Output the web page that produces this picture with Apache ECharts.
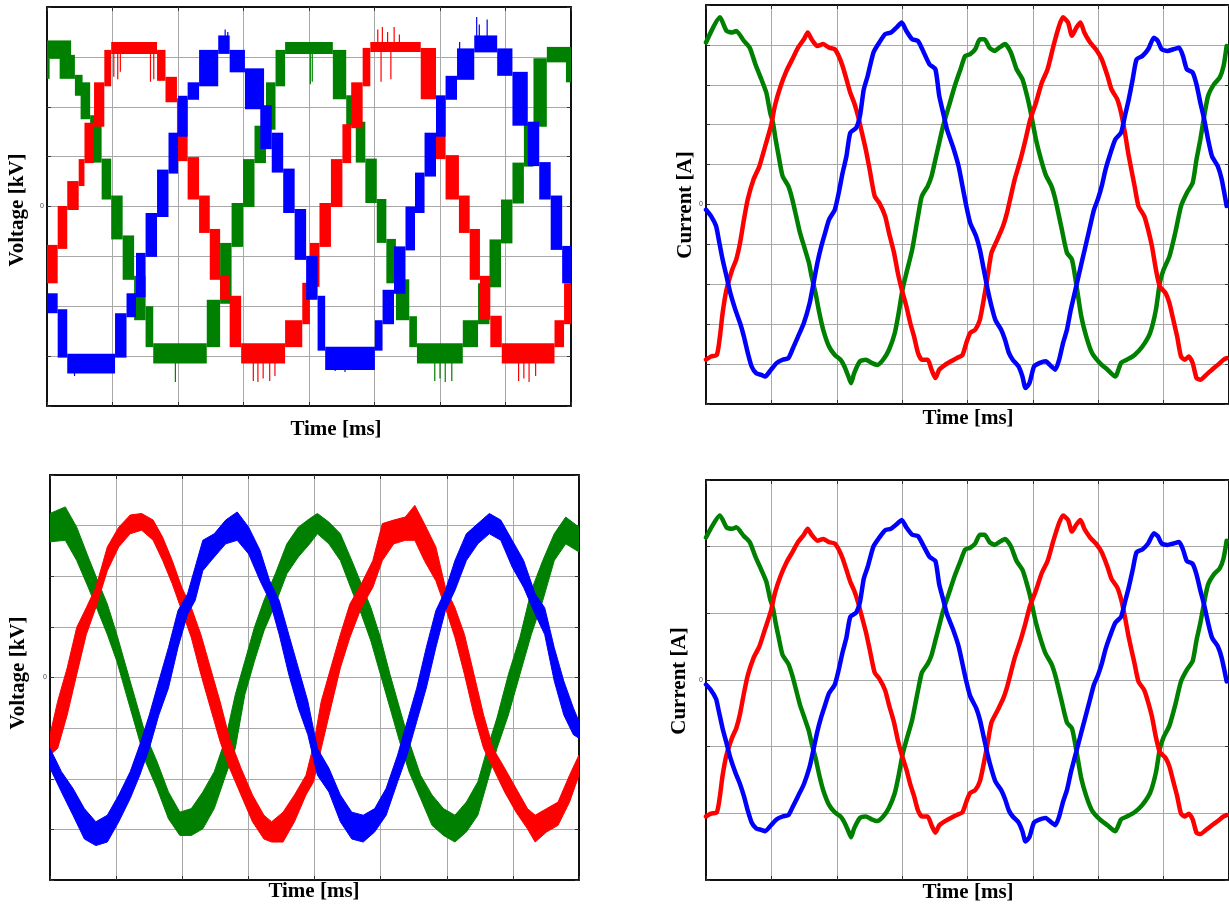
<!DOCTYPE html>
<html><head><meta charset="utf-8">
<script src="https://cdn.jsdelivr.net/npm/echarts/dist/echarts.min.js"></script>
<style>html,body{margin:0;padding:0;background:#fff}#c{width:1229px;height:906px}</style>
</head><body><div id="c"></div>
<script>
// ---------------- DATA (time and values in grid-division units) ----------------
const xTicks = [0, 8, 1];
// Top-left voltage (multilevel staircase): segments [t0, t1, low, high]
const tlRedSegs = [
 [0,0.163,-1.54,-0.77],[0.163,0.309,-0.85,0.01],[0.309,0.484,-0.07,0.51],[0.484,0.572,0.41,0.95],
 [0.572,0.718,0.87,1.68],[0.718,0.875,1.60,2.49],[0.875,0.980,2.41,3.14],[0.980,1.680,3.06,3.30],
 [1.680,1.809,2.52,3.14],[1.809,1.984,2.09,2.60],[1.984,2.147,0.91,2.17],[2.147,2.322,0.14,0.99],
 [2.322,2.485,-0.53,0.22],[2.485,2.643,-1.47,-0.45],[2.643,2.789,-1.87,-1.39],[2.789,2.964,-2.82,-1.79],
 [2.964,3.635,-3.15,-2.74],[3.635,3.897,-2.82,-2.28],[3.897,4.014,-2.36,-1.53],[4.014,4.160,-1.61,-0.73],
 [4.160,4.335,-0.81,0.07],[4.335,4.510,-0.01,0.95],[4.510,4.644,0.87,1.65],[4.644,4.819,1.57,2.49],
 [4.819,4.936,2.41,3.18],[4.936,5.706,3.10,3.30],[5.706,5.939,2.15,3.18],[5.939,6.085,0.95,2.23],
 [6.085,6.289,0.14,1.03],[6.289,6.453,-0.53,0.22],[6.453,6.610,-1.47,-0.45],[6.610,6.768,-2.27,-1.39],
 [6.768,6.943,-2.82,-2.19],[6.943,7.748,-3.15,-2.74],[7.748,7.894,-2.82,-2.28],[7.894,8.0,-2.36,-1.54]
];
const tlGreenSegs = [
 [0,0.368,2.96,3.33],[0,0.04,2.56,2.96],[0.193,0.426,2.56,3.04],[0.426,0.543,2.22,2.64],
 [0.513,0.659,1.75,2.49],[0.659,0.834,0.88,1.83],[0.834,0.980,0.14,0.96],[0.980,1.155,-0.66,0.22],
 [1.155,1.330,-1.47,-0.58],[1.330,1.505,-2.28,-1.39],[1.505,1.622,-2.82,-2.00],[1.622,2.439,-3.15,-2.74],
 [2.439,2.643,-2.82,-1.87],[2.643,2.818,-1.95,-0.73],[2.818,2.993,-0.81,0.07],[2.993,3.168,-0.01,0.95],
 [3.168,3.343,0.87,1.62],[3.343,3.489,1.54,2.49],[3.489,3.635,2.41,3.14],[3.635,4.364,3.06,3.30],
 [4.364,4.568,2.15,3.14],[4.568,4.714,1.62,2.23],[4.714,4.860,0.88,1.70],[4.860,5.035,0.07,0.96],
 [5.035,5.181,-0.73,0.15],[5.181,5.327,-1.54,-0.65],[5.327,5.531,-2.28,-1.46],[5.531,5.648,-2.82,-2.20],
 [5.648,6.348,-3.15,-2.74],[6.348,6.581,-2.82,-2.28],[6.581,6.756,-2.36,-1.54],[6.756,6.931,-1.62,-0.66],
 [6.931,7.106,-0.74,0.14],[7.106,7.281,0.06,0.88],[7.281,7.427,0.80,1.68],[7.427,7.631,1.60,2.97],
 [7.631,8.0,2.89,3.20],[7.923,8.0,2.49,2.97]
];
const tlBlueSegs = [
 [0,0.163,-2.14,-1.74],[0.163,0.309,-3.03,-2.06],[0.309,1.039,-3.35,-2.95],[1.039,1.214,-3.03,-2.14],
 [1.214,1.359,-2.22,-1.74],[1.359,1.505,-1.82,-0.93],[1.505,1.680,-1.01,-0.13],[1.680,1.855,-0.21,0.74],
 [1.855,2.001,0.66,1.48],[2.001,2.147,1.40,2.22],[2.147,2.322,2.14,2.49],[2.322,2.614,2.41,3.14],
 [2.614,2.789,3.06,3.43],[2.789,3.022,2.69,3.14],[3.022,3.314,1.95,2.77],[3.256,3.431,1.15,2.03],
 [3.431,3.606,0.68,1.48],[3.606,3.781,-0.13,0.76],[3.781,3.956,-1.07,-0.05],[3.956,4.131,-1.87,-0.99],
 [4.131,4.247,-2.89,-1.79],[4.247,5.006,-3.28,-2.81],[5.006,5.123,-2.89,-2.28],[5.123,5.298,-2.36,-1.67],
 [5.298,5.473,-1.75,-0.80],[5.473,5.618,-0.88,0.00],[5.618,5.764,-0.13,0.68],[5.764,5.939,0.60,1.48],
 [5.939,6.085,1.40,2.22],[6.085,6.260,2.14,2.62],[6.260,6.523,2.54,3.17],[6.523,6.873,3.09,3.43],
 [6.873,7.106,2.62,3.17],[7.106,7.340,1.62,2.70],[7.340,7.515,0.81,1.70],[7.515,7.690,0.14,0.89],
 [7.690,7.865,-0.87,0.22],[7.865,8.0,-1.54,-0.79]
];
// switching spikes [t, from, to]
const tlRedSpikes = [[1.02,2.6,3.1],[1.08,2.55,3.1],[1.12,2.7,3.1],[1.58,2.5,3.1],[1.63,2.55,3.1],
 [3.15,-3.5,-3.0],[3.22,-3.52,-3.0],[3.30,-3.45,-3.0],[3.40,-3.5,-3.0],[3.48,-3.4,-3.0],
 [5.05,3.2,3.55],[5.12,3.2,3.6],[5.20,3.2,3.5],[5.30,3.2,3.6],[5.38,3.2,3.45],[5.10,2.5,3.1],[5.25,2.55,3.1],
 [7.20,-3.5,-3.0],[7.28,-3.45,-3.0],[7.36,-3.52,-3.0],[7.46,-3.4,-3.0]];
const tlGreenSpikes = [[1.96,-3.52,-3.0],[4.02,2.45,3.1],[4.05,2.5,3.1],[5.92,-3.5,-3.0],[6.0,-3.45,-3.0],[6.08,-3.52,-3.0],[6.18,-3.5,-3.0]];
const tlBlueSpikes = [[2.72,3.1,3.55],[2.76,3.1,3.5],[6.56,3.3,3.8],[6.60,3.3,3.65],[6.72,3.3,3.75],[6.30,2.7,3.3],[6.35,2.6,3.1],[0.42,-3.4,-3.0],[4.40,-3.3,-2.9],[4.55,-3.32,-2.9]];

// Bottom-left voltage (noisy sinusoid band): t, low, high
const blGreenT = [0,0.231,0.404,0.578,0.722,0.867,1.011,1.155,1.300,1.444,1.618,1.791,1.964,2.137,2.311,2.484,2.657,2.802,2.946,3.091,3.235,3.408,3.582,3.755,3.928,4.044,4.217,4.391,4.564,4.708,4.853,4.997,5.142,5.286,5.430,5.604,5.777,5.950,6.124,6.297,6.470,6.615,6.759,6.932,7.106,7.279,7.452,7.626,7.799,8.0];
const blGreenHi = [3.24,3.37,2.97,2.38,1.91,1.45,0.85,0.19,-0.47,-1.13,-1.66,-2.26,-2.66,-2.59,-2.26,-1.86,-1.20,-0.34,0.32,0.99,1.52,2.05,2.64,2.97,3.14,3.24,3.07,2.84,2.31,1.85,1.38,0.79,0.06,-0.60,-1.26,-1.93,-2.32,-2.59,-2.72,-2.46,-2.06,-1.40,-0.80,0.06,0.79,1.72,2.31,2.84,3.17,2.97];
const blGreenLo = [2.68,2.71,2.31,1.78,1.32,0.85,0.32,-0.34,-1.00,-1.66,-2.19,-2.79,-3.12,-3.12,-2.99,-2.59,-1.93,-1.40,-0.34,0.32,0.92,1.45,2.05,2.38,2.64,2.84,2.64,2.31,1.72,1.25,0.72,0.06,-0.60,-1.26,-1.86,-2.39,-2.92,-3.12,-3.25,-3.05,-2.72,-2.06,-1.40,-0.74,0.06,0.85,1.52,2.31,2.64,2.48];
const blRedT = [0,0.116,0.260,0.404,0.549,0.693,0.867,1.040,1.213,1.386,1.560,1.704,1.849,1.993,2.137,2.282,2.426,2.571,2.715,2.888,3.062,3.235,3.351,3.524,3.697,3.871,3.986,4.102,4.246,4.391,4.535,4.708,4.882,5.026,5.199,5.373,5.517,5.661,5.835,5.979,6.124,6.268,6.412,6.557,6.701,6.875,7.048,7.221,7.337,7.510,7.683,7.857,8.0];
const blRedHi = [-1.13,-0.47,0.19,0.99,1.38,1.78,2.58,2.97,3.21,3.24,3.11,2.77,2.31,1.78,1.38,0.85,0.19,-0.47,-1.20,-1.79,-2.32,-2.72,-2.85,-2.66,-2.32,-1.93,-1.33,-0.47,0.19,0.85,1.45,1.85,2.31,3.04,3.11,3.17,3.40,3.04,2.58,1.78,1.38,0.85,0.06,-0.74,-1.40,-1.79,-2.19,-2.59,-2.72,-2.59,-2.46,-1.93,-1.53];
const blRedLo = [-1.53,-1.40,-0.74,0.06,0.85,1.38,2.11,2.58,2.84,2.91,2.71,2.31,1.85,1.32,0.79,0.06,-0.60,-1.26,-1.79,-2.32,-2.85,-3.19,-3.25,-3.25,-2.85,-2.32,-2.06,-1.40,-0.60,0.19,0.79,1.38,1.78,2.31,2.64,2.71,2.71,2.31,1.91,1.38,0.79,0.06,-0.74,-1.40,-1.79,-2.26,-2.66,-2.99,-3.25,-3.05,-2.92,-2.46,-1.93];
const blBlueT = [0,0.173,0.347,0.520,0.693,0.867,1.040,1.213,1.358,1.502,1.646,1.791,1.935,2.080,2.195,2.311,2.484,2.657,2.831,3.004,3.177,3.322,3.466,3.611,3.755,3.899,4.044,4.217,4.391,4.564,4.737,4.910,5.084,5.257,5.401,5.546,5.690,5.835,5.979,6.124,6.297,6.470,6.644,6.817,6.990,7.163,7.337,7.481,7.626,7.770,7.915,8.0];
const blBlueHi = [-1.40,-1.86,-2.19,-2.59,-2.85,-2.72,-2.32,-1.86,-1.33,-0.74,-0.07,0.59,1.32,1.65,2.18,2.71,2.84,3.11,3.27,2.97,2.51,1.91,1.52,0.85,0.19,-0.47,-1.40,-1.79,-2.32,-2.66,-2.72,-2.59,-2.19,-1.53,-0.87,-0.21,0.59,1.32,1.72,2.31,2.84,3.04,3.24,3.11,2.71,2.31,1.65,1.38,0.59,-0.07,-0.60,-0.87];
const blBlueLo = [-1.79,-2.26,-2.72,-3.19,-3.32,-3.25,-2.85,-2.39,-1.93,-1.40,-0.74,-0.21,0.59,1.25,1.52,2.11,2.38,2.64,2.71,2.44,1.91,1.52,0.85,0.06,-0.60,-1.13,-1.93,-2.26,-2.85,-3.19,-3.25,-3.05,-2.72,-2.06,-1.53,-0.87,-0.21,0.59,1.32,1.72,2.31,2.64,2.84,2.71,2.18,1.78,1.25,0.85,-0.07,-0.74,-1.13,-1.20];

// Currents (same measurement in both right panels)
const curGreenT = [0,0.213,0.314,0.402,0.462,0.580,0.669,0.757,0.846,0.923,0.982,1.024,1.065,1.112,1.172,1.260,1.320,1.379,1.438,1.515,1.574,1.615,1.675,1.734,1.793,1.882,1.970,2.059,2.118,2.178,2.219,2.266,2.355,2.444,2.533,2.621,2.710,2.799,2.888,2.947,3.006,3.065,3.154,3.243,3.302,3.391,3.450,3.509,3.568,3.627,3.716,3.805,3.893,3.964,4.041,4.118,4.189,4.260,4.337,4.414,4.485,4.574,4.663,4.751,4.840,4.899,4.947,4.988,5.047,5.124,5.195,5.284,5.343,5.432,5.521,5.598,5.669,5.740,5.817,5.905,6.024,6.142,6.260,6.349,6.438,6.556,6.675,6.793,6.882,6.941,7.000,7.089,7.178,7.266,7.355,7.444,7.503,7.562,7.621,7.680,7.769,7.858,7.917,7.964];
const curGreenV = [4.06,4.69,4.35,4.31,4.35,4.10,3.93,3.51,3.14,2.80,2.30,2.05,1.63,1.21,0.71,0.46,0.13,-0.29,-0.71,-1.13,-1.46,-1.80,-2.22,-2.72,-3.14,-3.56,-3.77,-3.89,-4.06,-4.31,-4.48,-4.23,-3.93,-3.89,-3.97,-4.02,-3.89,-3.64,-3.22,-2.72,-2.13,-1.72,-1.13,-0.29,0.21,0.46,0.71,1.13,1.55,1.97,2.47,2.97,3.39,3.72,3.77,3.89,4.14,4.14,3.93,3.85,3.93,4.02,3.81,3.39,3.14,2.80,2.47,2.13,1.63,1.13,0.75,0.46,0.13,-0.54,-1.21,-1.38,-2.05,-2.80,-3.31,-3.72,-3.97,-4.14,-4.31,-3.97,-3.89,-3.77,-3.56,-3.22,-2.64,-1.97,-1.63,-1.30,-0.71,-0.04,0.29,0.54,1.13,1.63,2.22,2.72,3.01,3.18,3.47,3.97];
const curRedT = [0,0.077,0.166,0.213,0.254,0.314,0.402,0.462,0.521,0.580,0.639,0.728,0.817,0.905,0.994,1.053,1.142,1.231,1.320,1.408,1.497,1.556,1.615,1.704,1.793,1.882,1.970,2.030,2.089,2.148,2.207,2.266,2.325,2.385,2.444,2.503,2.580,2.651,2.740,2.799,2.876,2.935,2.994,3.065,3.124,3.183,3.243,3.302,3.391,3.450,3.509,3.568,3.657,3.746,3.834,3.923,3.982,4.041,4.118,4.189,4.249,4.308,4.367,4.456,4.544,4.604,4.663,4.722,4.811,4.888,4.959,5.047,5.136,5.225,5.314,5.402,5.462,5.538,5.598,5.669,5.728,5.787,5.876,5.964,6.053,6.142,6.201,6.290,6.349,6.408,6.467,6.556,6.615,6.704,6.763,6.822,6.882,6.941,7.030,7.089,7.148,7.207,7.266,7.325,7.385,7.444,7.503,7.562,7.651,7.740,7.828,7.917,7.964];
const curRedV = [-3.89,-3.81,-3.77,-3.31,-2.72,-2.13,-1.63,-1.38,-0.96,-0.38,0.13,0.63,0.96,1.46,1.97,2.47,2.97,3.35,3.64,3.93,4.14,4.31,4.14,3.97,4.02,3.93,3.89,3.72,3.47,3.14,2.80,2.55,2.22,1.80,1.38,0.88,0.21,0.04,-0.29,-0.71,-1.21,-1.72,-2.13,-2.55,-2.97,-3.31,-3.72,-3.89,-3.89,-4.14,-4.35,-4.14,-4.02,-3.93,-3.85,-3.77,-3.47,-3.22,-3.14,-2.89,-2.38,-1.80,-1.21,-0.88,-0.54,-0.21,0.21,0.63,1.13,1.63,2.13,2.55,3.05,3.39,3.97,4.48,4.69,4.56,4.23,4.44,4.56,4.31,4.06,3.89,3.64,3.22,2.89,2.64,2.30,1.80,1.21,0.46,-0.04,-0.29,-0.63,-1.05,-1.63,-2.05,-2.22,-2.47,-2.89,-3.31,-3.81,-3.89,-3.81,-3.97,-4.35,-4.39,-4.27,-4.14,-4.02,-3.89,-3.85];
const curBlueT = [0,0.077,0.154,0.195,0.254,0.314,0.373,0.450,0.521,0.580,0.639,0.698,0.769,0.846,0.905,0.994,1.083,1.172,1.260,1.320,1.408,1.497,1.586,1.645,1.704,1.763,1.822,1.882,1.970,2.030,2.089,2.148,2.207,2.296,2.355,2.414,2.473,2.562,2.651,2.740,2.828,2.917,2.994,3.065,3.154,3.243,3.331,3.420,3.509,3.568,3.627,3.686,3.775,3.864,3.923,3.982,4.041,4.130,4.189,4.249,4.308,4.367,4.426,4.515,4.574,4.633,4.692,4.781,4.840,4.888,4.947,5.018,5.107,5.195,5.284,5.343,5.402,5.462,5.521,5.580,5.639,5.698,5.757,5.817,5.876,5.935,5.994,6.053,6.112,6.172,6.260,6.349,6.408,6.467,6.527,6.586,6.675,6.763,6.852,6.911,6.970,7.059,7.148,7.237,7.296,7.355,7.444,7.503,7.562,7.621,7.680,7.740,7.828,7.888,7.964];
const curBlueV = [-0.13,-0.29,-0.54,-0.88,-1.38,-1.80,-2.22,-2.64,-2.97,-3.31,-3.72,-4.06,-4.23,-4.27,-4.31,-4.14,-3.97,-3.89,-3.85,-3.64,-3.31,-2.97,-2.47,-1.97,-1.46,-1.05,-0.71,-0.38,-0.13,0.29,0.79,1.21,1.80,1.92,2.22,2.89,3.22,3.81,4.06,4.27,4.31,4.44,4.56,4.35,4.14,4.10,3.81,3.51,3.39,2.72,2.30,1.88,1.46,0.96,0.46,-0.04,-0.46,-0.79,-1.13,-1.63,-2.13,-2.55,-2.89,-3.14,-3.39,-3.72,-3.89,-4.06,-4.31,-4.60,-4.48,-4.06,-3.97,-3.93,-4.06,-4.14,-3.89,-3.47,-3.14,-2.64,-2.22,-1.80,-1.38,-0.96,-0.54,-0.13,0.13,0.46,0.88,1.21,1.63,1.80,2.22,2.64,3.14,3.64,3.72,3.89,4.18,4.10,3.89,3.85,3.89,3.93,3.72,3.39,3.31,3.01,2.55,2.13,1.63,1.21,0.96,0.63,-0.04];

// ---------------- CHART ----------------
const RED = '#ff0000', GREEN = '#008000', BLUE = '#0000ff';
const grids = [
  {left: 47, top: 7, width: 524, height: 399},
  {left: 706, top: 5, width: 525, height: 399},
  {left: 50, top: 475, width: 529, height: 405},
  {left: 706, top: 480, width: 525, height: 400}
];
const yRanges = [[-4, 4, 1], [-5, 5, 1], [-4, 4, 1], [-5.7, 5.7, 1.9]];

const xAxes = [], yAxes = [];
grids.forEach((g, i) => {
  const line = {show: true, onZero: false, lineStyle: {color: '#111', width: 2}};
  const tick = {show: true, inside: true, length: 4, lineStyle: {color: '#333', width: 1}};
  xAxes.push({gridIndex: i, type: 'value', min: xTicks[0], max: xTicks[1], interval: xTicks[2], position: 'bottom',
    axisLine: line, axisTick: tick, axisLabel: {show: false},
    splitLine: {show: true, lineStyle: {color: '#a8a8a8', width: 1}}});
  xAxes.push({gridIndex: i, type: 'value', min: xTicks[0], max: xTicks[1], interval: xTicks[2], position: 'top',
    axisLine: line, axisTick: tick, axisLabel: {show: false}, splitLine: {show: false}});
  const r = yRanges[i];
  yAxes.push({gridIndex: i, type: 'value', min: r[0], max: r[1], interval: r[2], position: 'left',
    axisLine: line, axisTick: tick,
    axisLabel: {show: true, fontSize: 7, color: '#444', margin: 3, fontFamily: 'Liberation Sans',
      formatter: v => Math.abs(v) < 1e-6 ? '0' : ''},
    splitLine: {show: true, lineStyle: {color: '#a8a8a8', width: 1}}});
  yAxes.push({gridIndex: i, type: 'value', min: r[0], max: r[1], interval: r[2], position: 'right',
    axisLine: line, axisTick: tick, axisLabel: {show: false}, splitLine: {show: false}});
});

function segSeries(segs, color, gi) {
  return {type: 'custom', xAxisIndex: 2 * gi, yAxisIndex: 2 * gi, data: segs, clip: true,
    encode: {x: [0, 1], y: [2, 3]},
    renderItem: (p, api) => {
      const a = api.coord([api.value(0), api.value(3)]);
      const b = api.coord([api.value(1), api.value(2)]);
      return {type: 'rect', shape: {x: a[0], y: a[1], width: b[0] - a[0], height: Math.max(b[1] - a[1], 2)},
        style: {fill: color}};
    }};
}
function spikeSeries(spk, color, gi) {
  return {type: 'custom', xAxisIndex: 2 * gi, yAxisIndex: 2 * gi, data: spk, clip: true,
    encode: {x: 0, y: [1, 2]},
    renderItem: (p, api) => {
      const a = api.coord([api.value(0), api.value(1)]);
      const b = api.coord([api.value(0), api.value(2)]);
      return {type: 'line', shape: {x1: a[0], y1: a[1], x2: b[0], y2: b[1]}, style: {stroke: color, lineWidth: 1.2}};
    }};
}
function bandSeries(ts, lo, hi, color, gi) {
  const data = ts.map((t, k) => [t, lo[k], hi[k]]);
  return {type: 'custom', xAxisIndex: 2 * gi, yAxisIndex: 2 * gi, data: data, clip: true,
    encode: {x: 0, y: [1, 2]},
    renderItem: (p, api) => {
      if (p.dataIndex !== 0) return null;
      const up = data.map(d => api.coord([d[0], d[2]]));
      const dn = data.map(d => api.coord([d[0], d[1]])).reverse();
      return {type: 'polygon', shape: {points: up.concat(dn)}, style: {fill: color, stroke: color, lineWidth: 1}};
    }};
}
function lineSeries(ts, vs, color, gi) {
  return {type: 'line', xAxisIndex: 2 * gi, yAxisIndex: 2 * gi, data: ts.map((t, k) => [t, vs[k]]),
    showSymbol: false, symbol: 'none', smooth: 0.2, clip: true,
    lineStyle: {color: color, width: 4.5, join: 'round', cap: 'round'}, animation: false};
}

const series = [
  segSeries(tlGreenSegs, GREEN, 0), spikeSeries(tlGreenSpikes, GREEN, 0),
  segSeries(tlRedSegs, RED, 0), spikeSeries(tlRedSpikes, RED, 0),
  segSeries(tlBlueSegs, BLUE, 0), spikeSeries(tlBlueSpikes, BLUE, 0),
  lineSeries(curGreenT, curGreenV, GREEN, 1), lineSeries(curRedT, curRedV, RED, 1), lineSeries(curBlueT, curBlueV, BLUE, 1),
  bandSeries(blGreenT, blGreenLo, blGreenHi, GREEN, 2), bandSeries(blRedT, blRedLo, blRedHi, RED, 2), bandSeries(blBlueT, blBlueLo, blBlueHi, BLUE, 2),
  lineSeries(curGreenT, curGreenV, GREEN, 3), lineSeries(curRedT, curRedV, RED, 3), lineSeries(curBlueT, curBlueV, BLUE, 3)
];

const FONT = 'bold 21px "Liberation Serif", "Times New Roman", serif';
function label(text, x, y, rot) {
  return {type: 'text', x: x, y: y, rotation: rot ? Math.PI / 2 : 0, z: 100,
    style: {text: text, font: FONT, fill: '#000', align: 'center', verticalAlign: 'middle',
      textAlign: 'center', textVerticalAlign: 'middle'}};
}

const chart = echarts.init(document.getElementById('c'), null, {renderer: 'canvas'});
chart.setOption({
  animation: false,
  backgroundColor: '#fff',
  grid: grids.map(g => Object.assign({containLabel: false}, g)),
  xAxis: xAxes,
  yAxis: yAxes,
  series: series,
  graphic: [
    label('Time [ms]', 336, 430, false), label('Time [ms]', 968, 419, false),
    label('Time [ms]', 314, 892, false), label('Time [ms]', 968, 893, false),
    label('Voltage [kV]', 18, 210, true), label('Current [A]', 686, 205, true),
    label('Voltage [kV]', 19, 673, true), label('Current [A]', 680, 681, true)
  ]
});
</script></body></html>
